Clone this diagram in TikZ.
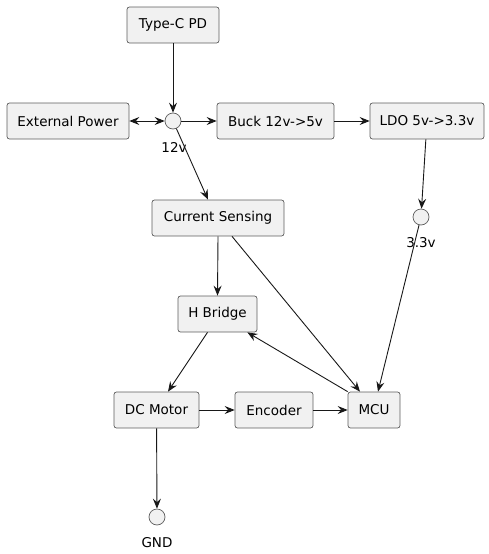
\documentclass[tikz,border=0pt]{standalone}
\usepackage{fontspec}
\setmainfont{DejaVu Sans}
\usetikzlibrary{arrows.meta}
\definecolor{boxfill}{HTML}{F1F1F1}
\definecolor{boxdraw}{HTML}{5D5D5D}
\definecolor{linec}{HTML}{181818}
\tikzset{
  blk/.style={draw=boxdraw, fill=boxfill, rounded corners=2.5pt, line width=0.7pt,
    minimum height=36pt, inner sep=0pt, font=\fontsize{13.5}{16}\selectfont, text=black},
  junc/.style={circle, draw=boxdraw, fill=boxfill, line width=0.7pt, minimum size=16pt, inner sep=0pt},
  lbl/.style={font=\fontsize{13.5}{16}\selectfont, text=black, inner sep=0pt},
  conn/.style={draw=linec, line width=0.9pt, -{Stealth[length=10pt,width=8pt,inset=3.5pt]}},
  bconn/.style={draw=linec, line width=0.9pt, {Stealth[length=10pt,width=8pt,inset=3.5pt]}-{Stealth[length=10pt,width=8pt,inset=3.5pt]}}
}
\begin{document}
\begin{tikzpicture}[x=1pt,y=-1pt]
\useasboundingbox (0,0) rectangle (489,554);
\node[blk, minimum width=92pt] (typec) at (173,25) {Type-C PD};
\node[blk, minimum width=122pt] (ext) at (68,121) {External Power};
\node[junc] (v12) at (173,121) {};
\node[lbl] (l12) at (174,147) {12v};
\node[blk, minimum width=117pt] (buck) at (275.5,121) {Buck 12v->5v};
\node[blk, minimum width=114pt] (ldo) at (427,121) {LDO 5v->3.3v};
\node[junc] (v33) at (421,217) {};
\node[lbl] (l33) at (421,243) {3.3v};
\node[blk, minimum width=132pt] (cs) at (218,218) {Current Sensing};
\node[blk, minimum width=79pt] (hb) at (217.5,314) {H Bridge};
\node[blk, minimum width=85pt] (dc) at (156.5,410) {DC Motor};
\node[blk, minimum width=78pt] (enc) at (274,410) {Encoder};
\node[blk, minimum width=52pt] (mcu) at (374,410) {MCU};
\node[junc] (gnd) at (157,517) {};
\node[lbl] (lgnd) at (157,543) {GND};

\draw[conn] (typec) -- (v12);
\draw[bconn] (ext) -- (v12);
\draw[conn] (v12) -- (buck);
\draw[conn] (buck) -- (ldo);
\draw[conn] (ldo) -- (v33);
\draw[conn] (v12) -- ([xshift=-10pt]cs.north);
\draw[conn] (cs.south) -- (hb.north);
\draw[conn] ([xshift=14pt]cs.south) -- ([xshift=-14pt]mcu.north);
\draw[conn] (v33) -- ([xshift=4pt]mcu.north);
\draw[conn] (mcu.north west) -- ([xshift=-10pt]hb.south east);
\draw[conn] ([xshift=-10pt]hb.south) -- ([xshift=11.5pt]dc.north);
\draw[conn] (dc) -- (enc);
\draw[conn] (enc) -- (mcu);
\draw[conn] (dc) -- (gnd);
\end{tikzpicture}
\end{document}
